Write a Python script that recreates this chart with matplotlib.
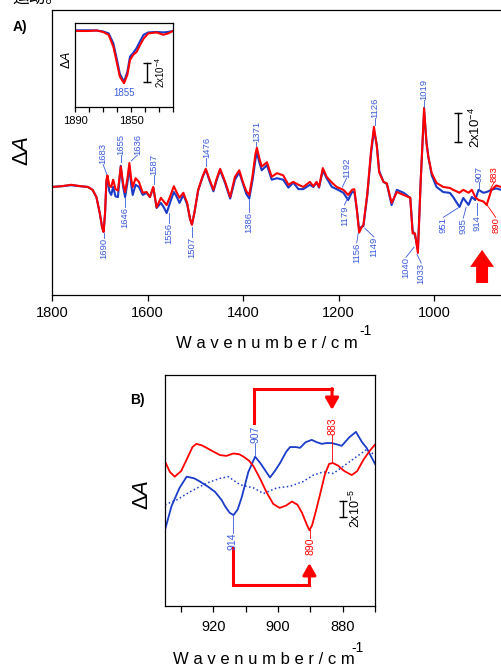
import matplotlib
matplotlib.use('Agg')
import matplotlib.pyplot as plt
from matplotlib.patches import FancyArrow
from matplotlib.ticker import MultipleLocator

plt.rcParams['font.family'] = ['Liberation Sans', 'DejaVu Sans']
plt.rcParams['mathtext.fontset'] = 'custom'
plt.rcParams['mathtext.rm'] = 'Liberation Sans'
plt.rcParams['mathtext.it'] = 'Liberation Sans:italic'

BLUE = '#1a3cc8'
BLUE_TXT = '#3b5bd9'
RED = '#ff0000'

# ======== panel A, full spectrum (dA in 1e-4 units)
main_wn = [1800, 1780, 1760, 1740, 1725, 1715, 1707, 1700, 1695, 1692, 1689, 1686, 1684,
           1680, 1676, 1672, 1667, 1662, 1656, 1651, 1647, 1642, 1638, 1634, 1631, 1625,
           1618, 1610, 1602, 1595, 1588, 1581, 1572, 1566, 1560, 1552, 1545, 1540, 1533,
           1525, 1517, 1511, 1507, 1502, 1494, 1485, 1478, 1470, 1462, 1455, 1448, 1438,
           1427, 1417, 1408, 1400, 1393, 1387, 1380, 1374, 1371, 1366, 1361, 1350, 1340,
           1329, 1316, 1305, 1295, 1284, 1274, 1260, 1253, 1246, 1241, 1233, 1225, 1214,
           1204, 1190, 1180, 1172, 1167, 1162, 1157, 1152, 1148, 1140, 1132, 1126, 1120,
           1115, 1106, 1099, 1089, 1078, 1064, 1050, 1045, 1040, 1034, 1028, 1021, 1016,
           1012, 1005, 995, 981, 967, 960, 947, 939, 928, 921, 914, 907, 897, 890, 880,
           870, 860]
main_red = [0.00, 0.05, 0.15, 0.05, 0.00, -0.20, -0.70, -1.80, -2.80, -3.10, -1.80, 0.50, 0.80,
            0.10, 0.00, 0.50, -0.15, -0.25, 1.40, 0.20, -0.35, 0.60, 1.65, 0.50, 0.00, 0.60,
            0.35, -0.40, -0.35, -0.70, 0.00, -1.40, -0.75, -1.00, -1.25, -0.60, 0.05, -0.30, -0.75,
            -0.40, -1.10, -2.20, -2.60, -1.80, -0.20, 0.70, 1.25, 0.50, -0.20, 0.60, 1.25, 0.40,
            -0.70, 0.70, 1.15, 0.30, -0.30, -0.55, 0.80, 2.30, 2.70, 2.00, 1.40, 1.70, 0.70,
            0.95, 0.80, 0.15, 0.35, 0.15, 0.00, 0.35, 0.05, 0.35, 0.00, 1.30, 0.70, 0.30,
            0.00, -0.20, -0.55, -0.20, -0.15, -1.50, -3.15, -2.80, -2.60, -0.50, 2.50, 4.15, 2.80,
            1.00, 0.35, 0.25, -1.10, -0.35, -0.55, -0.75, -3.20, -3.20, -4.55, 0.50, 5.45, 3.00,
            2.05, 0.95, 0.28, 0.00, -0.07, -0.20, -0.40, -0.20, -0.40, -0.20, -0.69, -0.90, -1.00, -1.24, -0.20,
            0.10, 0.00]
main_blue = [0.00, 0.05, 0.12, 0.05, 0.00, -0.20, -0.70, -1.80, -2.80, -3.10, -1.90, 0.40, 0.70,
             -0.30, -0.55, 0.00, -0.65, -0.70, 1.45, 0.00, -0.70, 0.30, 1.40, 0.10, -0.55, 0.15,
             0.00, -0.55, -0.40, -0.70, -0.05, -1.45, -1.10, -1.40, -1.80, -1.00, -0.35, -0.60, -1.10,
             -0.55, -1.20, -2.20, -2.60, -1.80, -0.25, 0.65, 1.20, 0.40, -0.30, 0.50, 1.15, 0.30,
             -0.80, 0.50, 1.00, 0.20, -0.50, -0.80, 0.50, 1.90, 2.35, 1.70, 1.15, 1.50, 0.50,
             0.60, 0.50, -0.05, 0.30, -0.15, -0.15, 0.15, 0.00, 0.30, -0.05, 1.15, 0.60, 0.00,
             -0.15, -0.40, -0.90, -0.35, -0.35, -1.50, -2.95, -2.75, -2.70, -0.60, 2.30, 3.90, 2.90,
             1.10, 0.35, 0.20, -1.25, -0.20, -0.40, -0.75, -3.00, -3.35, -4.35, 0.50, 5.20, 3.10,
             2.05, 0.80, 0.00, -0.35, -0.41, -0.70, -1.38, -0.76, -1.24, -0.69, -0.90, -0.20, -0.40, -0.35, -0.20,
             -0.10, -0.20]

# ======== inset, C=O region
ins_wn = [1890, 1880, 1874.5, 1870, 1866, 1862.6, 1860, 1858, 1855, 1852.6, 1850.7, 1848.4,
          1846, 1843.6, 1841, 1837.6, 1831.7, 1827, 1823.4, 1820]
ins_red = [0.00, 0.00, 0.05, -0.10, -0.40, -1.65, -3.40, -4.80, -5.50, -4.60, -3.05, -2.50,
           -2.20, -1.50, -0.80, -0.25, -0.15, -0.40, -0.25, 0.00]
ins_blue = [0.07, 0.07, 0.05, -0.05, -0.25, -1.30, -3.05, -4.50, -5.35, -4.30, -2.70, -2.30,
            -1.80, -1.10, -0.40, -0.15, -0.10, -0.15, -0.10, 0.00]

# ======== panel B, zoom 935-870 (dA in 1e-5 units)
b_red_wn = [935, 933.5, 932, 930, 928, 926.5, 925.3, 923.5, 921, 918, 916, 913.8, 912, 910.7,
            909, 907.6, 905.5, 903.5, 901.5, 899.5, 897.5, 895.7, 894, 892.6, 891.2, 890.3,
            889.5, 888.3, 887, 885.5, 884.2, 883, 881.5, 879.5, 877.2, 875.5, 873.6, 871.5, 870]
b_red = [4.8, 3.5, 2.9, 3.6, 5.3, 6.6, 7.0, 6.8, 6.25, 5.6, 5.5, 5.8, 5.7, 5.4,
         4.9, 4.2, 2.6, 0.9, -0.5, -1.0, -0.7, -0.2, -0.6, -1.6, -3.0, -3.8,
         -3.2, -1.4, 0.7, 3.2, 4.5, 4.6, 4.3, 3.6, 3.1, 3.6, 5.0, 6.2, 6.9]
b_blue_wn = [935, 933, 930.5, 928.3, 926, 924.2, 921.5, 919.5, 917.5, 916.4, 915, 913.8, 912.5,
             911.2, 909.2, 907.1, 905.5, 904.5, 902.5, 901, 899.4, 897.5, 896.3, 894.5, 893.2,
             891.5, 889.6, 888, 886.5, 885, 883.4, 881.5, 880.3, 878, 875.9, 874, 872.6, 870]
b_blue = [-3.75, -0.8, 1.5, 2.9, 2.7, 2.3, 1.6, 1.0, 0.0, -0.8, -1.6, -1.9, -1.2,
          0.4, 3.5, 5.4, 4.6, 4.0, 2.8, 3.6, 4.6, 6.0, 6.6, 6.6, 6.5,
          7.2, 7.5, 7.2, 7.0, 7.1, 7.1, 6.9, 6.75, 7.8, 8.5, 7.2, 6.5, 4.5]
b_dot_wn = [935, 931.4, 927.3, 922.1, 917.9, 915.4, 911.8, 907.6, 904.5, 900.4, 896.3, 892.2,
            889.1, 886, 882.9, 879.8, 875.7, 872.6, 870]
b_dot = [-0.6, 0.0, 1.0, 2.1, 2.7, 2.9, 1.9, 1.5, 0.8, 1.5, 1.7, 2.3,
         3.1, 3.5, 3.3, 4.2, 5.4, 6.3, 5.6]

# peak labels: text, wn of text, y of text, wn of tip, y of tip, up/down, colour
a_labels = [('1683', 1693, 1.55, 1685, 0.85, 'up', BLUE_TXT),
            ('1655', 1656, 2.2, 1656, 1.7, 'up', BLUE_TXT),
            ('1636', 1621, 2.2, 1634, 1.8, 'up', BLUE_TXT),
            ('1587', 1586, 0.85, 1586, 0.2, 'up', BLUE_TXT),
            ('1476', 1477, 2.0, 1477, 1.45, 'up', BLUE_TXT),
            ('1371', 1372, 3.1, 1372, 2.85, 'up', BLUE_TXT),
            ('1192', 1183, 0.62, 1192, 0.0, 'up', BLUE_TXT),
            ('1126', 1124, 4.75, 1124, 4.3, 'up', BLUE_TXT),
            ('1019', 1021, 6.0, 1021, 5.5, 'up', BLUE_TXT),
            ('907', 907, 0.35, 907, -0.2, 'up', BLUE_TXT),
            ('883', 874, 0.35, 883, -0.2, 'up', RED),
            ('1690', 1691, -3.5, 1691, -3.15, 'down', BLUE_TXT),
            ('1646', 1647, -1.4, 1647, -0.7, 'down', BLUE_TXT),
            ('1556', 1556, -2.5, 1556, -1.8, 'down', BLUE_TXT),
            ('1507', 1507, -3.45, 1507, -2.75, 'down', BLUE_TXT),
            ('1386', 1387, -1.7, 1387, -0.85, 'down', BLUE_TXT),
            ('1179', 1188, -1.25, 1180, -0.7, 'down', BLUE_TXT),
            ('1156', 1162, -3.85, 1159, -3.2, 'down', BLUE_TXT),
            ('1149', 1126, -3.45, 1145, -2.85, 'down', BLUE_TXT),
            ('1040', 1059, -4.85, 1042, -4.15, 'down', BLUE_TXT),
            ('1033', 1027, -5.25, 1036, -4.65, 'down', BLUE_TXT),
            ('951', 981, -2.1, 950, -1.45, 'down', BLUE_TXT),
            ('935', 939, -2.15, 933, -1.4, 'down', BLUE_TXT),
            ('914', 911, -1.95, 911, -1.1, 'down', BLUE_TXT),
            ('890', 871, -2.1, 889, -1.25, 'down', RED)]

b_labels = [('907', 907, 7.1, 907, 5.5, 'up', BLUE_TXT),
            ('883', 883.2, 8.1, 883.2, 4.6, 'up', RED),
            ('914', 914, -4.1, 914, -1.9, 'down', BLUE_TXT),
            ('890', 890.1, -4.75, 890.1, -3.75, 'down', RED)]

fig = plt.figure(figsize=(5.01, 6.71), dpi=100)
W, H = 501.0, 671.0

# caption line of the page above, mostly cut off by the crop
fig.text(12 / W, 1 - 3 / H, '运动。', fontsize=12, va='baseline',
         family=['Noto Sans CJK SC', 'DejaVu Sans'])


def put_labels(ax, labels, size):
    for txt, xt, yt, xp, yp, side, col in labels:
        ax.plot([xp, xt], [yp, yt], color=col, lw=0.6)
        ax.text(xt, yt, txt, rotation=90, ha='center',
                va='bottom' if side == 'up' else 'top', fontsize=size, color=col)


def scale_bar(ax, x, y0, y1, tx, label, size):
    ax.plot([x, x], [y0, y1], color='black', lw=1.0)
    ax.plot([x, x], [y0, y1], ls='none', marker='_', ms=6, mew=1.0, color='black')
    ax.text(tx, (y0 + y1) / 2, label, rotation=90, ha='center', va='center', fontsize=size)


#========================
# panel A
ax = fig.add_axes([52 / W, 1 - 295 / H, 1 - 52 / W, 285 / H])
ax.plot(main_wn, main_blue, color=BLUE, lw=1.5)
ax.plot(main_wn, main_red, color=RED, lw=1.5)
ax.set_xlim(1800, 860)
ax.set_ylim(-7.45, 12.2)
ax.set_xticks([1800, 1600, 1400, 1200, 1000])
ax.set_yticks([])
ax.spines['right'].set_visible(False)
for s in ax.spines.values():
    s.set_linewidth(0.9)
ax.tick_params(axis='x', direction='out', length=4, width=0.9, labelsize=10.5, pad=4)
put_labels(ax, a_labels, 6.8)
scale_bar(ax, 950, 3.1, 5.1, 913, '2x10$^{-4}$', 9.5)
ax.add_patch(FancyArrow(899.6, -6.62, 0, 2.28, width=25, head_width=50, head_length=1.17,
                        length_includes_head=True, color=RED, lw=0))

fig.text(20 / W, 1 - 27 / H, 'A)', fontsize=10, fontweight='bold', ha='center', va='center')
fig.text(23 / W, 1 - 151 / H, 'Δ$A$', fontsize=16, rotation=90, ha='center', va='center')
fig.text(267 / W, 1 - 344 / H, 'W a v e n u m b e r / c m', fontsize=12, ha='center', va='center')
fig.text(365 / W, 1 - 331 / H, '-1', fontsize=10, ha='center', va='center')

#========================
# inset
axin = fig.add_axes([75 / W, 1 - 107 / H, 98 / W, 84 / H])
axin.plot(ins_wn, ins_blue, color=BLUE, lw=1.5)
axin.plot(ins_wn, ins_red, color=RED, lw=1.5)
axin.set_xlim(1890, 1820)
axin.set_ylim(-8.0, 0.84)
axin.set_xticks([1890, 1850])
axin.xaxis.set_minor_locator(MultipleLocator(10))
axin.set_yticks([])
for s in axin.spines.values():
    s.set_linewidth(0.9)
axin.tick_params(axis='x', which='both', direction='out', length=3.5, width=0.9, labelsize=8, pad=3)
axin.text(1855, -6.5, '1855', ha='center', va='center', fontsize=7, color=BLUE_TXT)
scale_bar(axin, 1838.6, -5.37, -3.37, 1829, '2x10$^{-4}$', 7)
fig.text(66 / W, 1 - 60 / H, 'Δ$A$', fontsize=9, rotation=90, ha='center', va='center')

#========================
# panel B
axb = fig.add_axes([165 / W, 1 - 606 / H, 210 / W, 231 / H])
axb.plot(b_dot_wn, b_dot, color=BLUE, lw=1.1, ls=':')
axb.plot(b_blue_wn, b_blue, color=BLUE, lw=1.3)
axb.plot(b_red_wn, b_red, color=RED, lw=1.3)
axb.set_xlim(935, 870)
axb.set_ylim(-13.25, 15.6)
axb.set_xticks([920, 900, 880])
axb.xaxis.set_minor_locator(MultipleLocator(10))
axb.set_yticks([])
for s in axb.spines.values():
    s.set_linewidth(0.9)
axb.tick_params(axis='x', which='both', direction='out', length=4, width=0.9, labelsize=10.5, pad=6)
put_labels(axb, b_labels, 7.5)
scale_bar(axb, 880, -2.1, -0.1, 876, '2x10$^{-5}$', 9)

# red brackets 907 -> 883 and 914 -> 890
axb.plot([907.4, 907.4, 883.3], [9.6, 13.9, 13.9], color=RED, lw=2.2,
         solid_joinstyle='miter', solid_capstyle='projecting')
axb.annotate('', xy=(883.3, 11.25), xytext=(883.3, 13.9),
             arrowprops=dict(arrowstyle='-|>,head_width=0.4,head_length=0.7', color=RED,
                             lw=2.2, shrinkA=0, shrinkB=0))
axb.plot([913.8, 913.8, 890.3], [-6.0, -10.6, -10.6], color=RED, lw=2.2,
         solid_joinstyle='miter', solid_capstyle='projecting')
axb.annotate('', xy=(890.3, -7.9), xytext=(890.3, -10.6),
             arrowprops=dict(arrowstyle='-|>,head_width=0.4,head_length=0.7', color=RED,
                             lw=2.2, shrinkA=0, shrinkB=0))

fig.text(137 / W, 1 - 400 / H, 'B)', fontsize=10, fontweight='bold', ha='center', va='center')
fig.text(142 / W, 1 - 495 / H, 'Δ$A$', fontsize=16, rotation=90, ha='center', va='center')
fig.text(264 / W, 1 - 660 / H, 'W a v e n u m b e r / c m', fontsize=12, ha='center', va='center')
fig.text(358 / W, 1 - 648 / H, '-1', fontsize=10, ha='center', va='center')

plt.savefig('out.png', dpi=100)
